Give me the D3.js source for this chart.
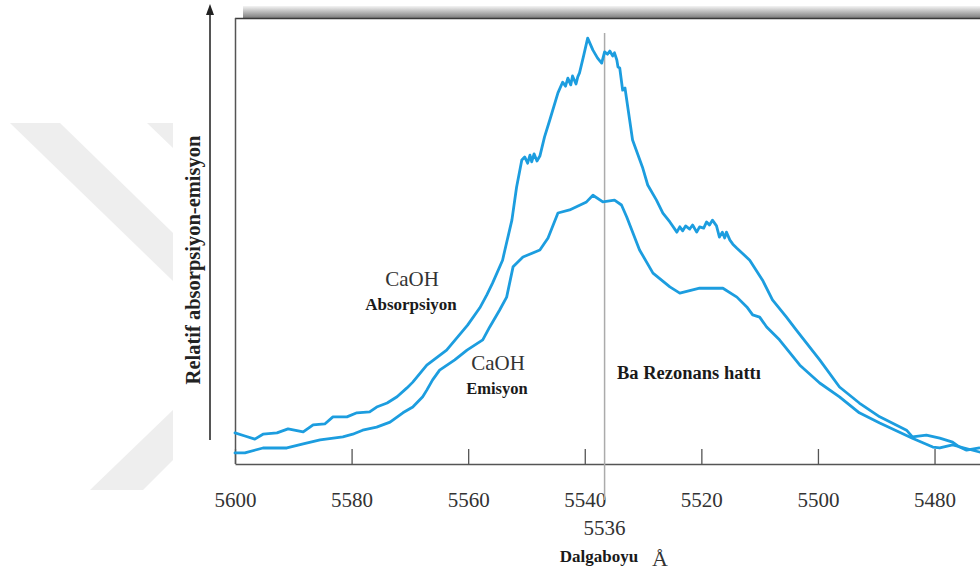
<!DOCTYPE html>
<html><head><meta charset="utf-8">
<script src="https://cdn.jsdelivr.net/npm/d3@7"></script>
<style>
html,body{margin:0;padding:0;background:#fff;}
svg{display:block;}
</style></head>
<body>
<svg id="chart" width="980" height="574"></svg>
<script>
// ---- data ----
const xTicks = [5600, 5580, 5560, 5540, 5520, 5500, 5480];
const absWave = [5600.0,5598.3,5596.6,5595.2,5592.8,5590.9,5588.3,5586.6,5584.6,5583.2,5580.8,5579.1,5576.9,5575.7,5573.9,5572.2,5570.5,5569.5,5567.1,5563.7,5560.1,5558.0,5556.8,5555.8,5554.1,5553.7,5552.5,5551.7,5550.8,5550.3,5549.8,5549.4,5549.1,5548.7,5548.2,5547.7,5546.9,5546.0,5544.6,5543.8,5543.3,5542.9,5542.4,5542.1,5541.5,5541.2,5540.9,5540.2,5539.5,5538.6,5537.8,5537.1,5536.6,5536.1,5535.7,5535.2,5534.9,5534.5,5534.3,5534.0,5533.5,5533.1,5532.3,5531.8,5530.1,5529.2,5527.7,5526.6,5525.4,5524.2,5523.7,5523.2,5522.7,5522.0,5521.5,5520.8,5520.3,5519.6,5519.1,5518.6,5518.1,5517.4,5516.9,5516.4,5516.0,5515.7,5515.1,5514.6,5513.9,5511.7,5509.5,5507.8,5505.4,5503.7,5499.7,5496.3,5492.9,5489.4,5484.8,5483.8,5481.4,5479.1,5476.9,5475.7,5474.5,5472.3];
const absValue = [7.0,6.3,5.6,6.7,7.0,7.9,7.2,8.8,9.0,10.6,10.6,11.5,11.7,12.8,13.7,15.1,17.1,18.4,22.2,25.6,31.2,35.1,38.0,40.7,45.8,48.1,54.8,62.2,68.3,69.0,67.6,69.4,67.9,69.7,68.1,69.2,73.5,77.3,83.4,85.8,84.9,86.7,85.2,87.2,85.4,87.0,87.9,91.7,95.7,93.0,91.2,90.1,92.6,92.1,92.8,91.7,92.4,90.8,89.2,89.0,84.0,84.5,77.3,72.8,66.7,62.7,59.3,56.4,54.4,52.1,53.3,52.4,53.5,52.8,53.7,52.1,53.3,53.0,54.4,53.7,54.8,53.5,51.0,52.1,50.8,52.1,50.3,49.4,48.5,45.8,41.3,36.9,33.0,30.1,23.4,17.3,13.7,10.6,7.6,6.1,6.5,5.8,4.9,3.8,3.1,3.6];
const emWave = [5600.0,5598.3,5595.2,5591.1,5588.3,5585.4,5581.5,5579.8,5578.1,5575.7,5573.4,5571.2,5569.5,5567.8,5567.1,5566.1,5564.9,5562.3,5560.2,5557.5,5556.3,5554.6,5553.4,5552.3,5550.6,5547.7,5546.3,5544.6,5542.6,5539.7,5538.6,5536.9,5534.9,5533.7,5532.8,5530.6,5528.3,5525.4,5523.7,5520.3,5516.3,5513.9,5512.2,5511.2,5510.0,5508.8,5506.6,5503.1,5499.7,5496.3,5492.9,5489.4,5483.8,5480.3,5479.1,5476.9,5474.9,5472.3];
const emValue = [2.5,2.5,3.6,3.6,4.5,5.4,6.1,6.7,7.6,8.3,9.4,11.5,12.8,15.1,16.6,18.9,21.1,23.4,25.6,27.9,30.8,34.6,37.5,44.3,46.5,48.1,50.8,56.4,57.1,58.9,60.4,58.9,59.3,58.2,55.5,48.1,42.9,39.8,38.4,39.5,39.5,37.5,35.3,33.5,33.0,30.8,27.9,22.2,18.2,15.1,11.5,9.2,5.8,3.8,3.6,4.3,3.6,2.7];
const baLineWave = 5536.6;
const baLineLabel = "5536";
const yTitle = "Relatif absorpsiyon-emisyon";
const xTitle = "Dalgaboyu";
const unitLabel = "Å";

// ---- drawing ----
const svg = d3.select("#chart");
const W = 980, H = 574;
const x = d3.scaleLinear().domain([5600, 5472.2]).range([235, 980]);
const y = d3.scaleLinear().domain([0, 100]).range([464, 19]);
const blue = "#1c9ddf";
const serif = "'Liberation Serif','Times New Roman',serif";

// faint watermark
const wm = svg.append("g").attr("fill", "#eeeeee");
[[[10,123],[60,123],[173,233],[173,281]],
 [[147,123],[173,123],[173,148]],
 [[90,490],[143,490],[173,460],[173,410]]].forEach(p => wm.append("polygon").attr("points", p.join(" ")));

// shadow bar above frame
const defs = svg.append("defs");
const lg = defs.append("linearGradient").attr("id","shade").attr("x1",0).attr("x2",0).attr("y1",0).attr("y2",1);
lg.append("stop").attr("offset","0%").attr("stop-color","#f4f4f4");
lg.append("stop").attr("offset","100%").attr("stop-color","#7d7d7d");
svg.append("rect").attr("x",243).attr("y",6).attr("width",W-243).attr("height",12).attr("fill","url(#shade)");

// frame: top and left
svg.append("line").attr("x1",235).attr("x2",W).attr("y1",18.5).attr("y2",18.5).attr("stroke","#3a3a3a").attr("stroke-width",1.5);
svg.append("line").attr("x1",235.5).attr("x2",235.5).attr("y1",18).attr("y2",464).attr("stroke","#555").attr("stroke-width",1.5);

// x axis
const xAxis = d3.axisBottom(x).tickValues(xTicks).tickFormat(d3.format("d"))
  .tickSizeInner(-15).tickSizeOuter(0).tickPadding(28);
const gx = svg.append("g").attr("transform","translate(0,464)").call(xAxis);
gx.select(".domain").attr("stroke","#555").attr("stroke-width",1.5);
gx.selectAll(".tick line").attr("stroke","#555").attr("stroke-width",1.3);
gx.selectAll(".tick text").attr("font-family",serif).attr("font-size",21).attr("fill","#333");

// Ba resonance line
svg.append("line").attr("x1",x(baLineWave)).attr("x2",x(baLineWave)).attr("y1",33).attr("y2",500)
  .attr("stroke","#ababab").attr("stroke-width",1.5);

// curves
const line = d3.line().x(d => x(d[0])).y(d => y(d[1])).curve(d3.curveLinear);
const absData = absWave.map((w,i) => [w, absValue[i]]);
const emData = emWave.map((w,i) => [w, emValue[i]]);
[absData, emData].forEach(dat => {
  svg.append("path").datum(dat).attr("d", line).attr("fill","none")
    .attr("stroke", blue).attr("stroke-width", 2.8).attr("stroke-linejoin","round").attr("stroke-linecap","round");
});

// y arrow
svg.append("line").attr("x1",210).attr("x2",210).attr("y1",440).attr("y2",12).attr("stroke","#555").attr("stroke-width",2);
svg.append("path").attr("d","M210,4 L206,15 L214,15 Z").attr("fill","#222");

// y title
svg.append("text").attr("transform","translate(200,260) rotate(-90)").attr("text-anchor","middle")
  .attr("font-family",serif).attr("font-weight","bold").attr("font-size",20.5).attr("fill","#222").text(yTitle);

// labels
function lab(t, xx, yy, size, bold, anchor) {
  svg.append("text").attr("x",xx).attr("y",yy).attr("text-anchor",anchor||"middle")
    .attr("font-family",serif).attr("font-size",size).attr("font-weight",bold?"bold":"normal")
    .attr("fill", bold ? "#1a1a1a" : "#333").text(t);
}
lab("CaOH", 412, 286, 21, false);
lab("Absorpsiyon", 411, 310, 17, true);
lab("CaOH", 498, 370, 21, false);
lab("Emisyon", 497, 394, 16.5, true);
lab("Ba Rezonans hattı", 617, 379, 18.5, true, "start");
lab(baLineLabel, x(baLineWave), 535, 21, false);
lab(xTitle, 599, 562, 17, true);
lab(unitLabel, 660, 566, 22, false);
</script>
</body></html>
